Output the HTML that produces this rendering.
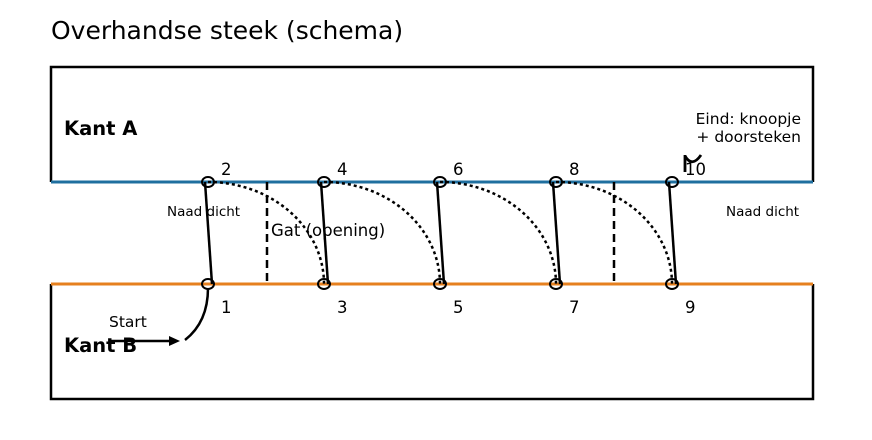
<!DOCTYPE html>
<html><head><style>body{margin:0;background:#fff}</style></head><body>
<svg width="872" height="435" xmlns="http://www.w3.org/2000/svg" font-family="DejaVu Sans, Liberation Sans, sans-serif">
<text x="51" y="39" font-size="25">Overhandse steek (schema)</text>
<g stroke="#000" stroke-width="2.5" fill="none">
<polyline points="51,182 51,67 813,67 813,182"/>
<polyline points="51,284 51,399 813,399 813,284"/>
</g>
<line x1="51" y1="182" x2="813" y2="182" stroke="#1f6f9f" stroke-width="3"/>
<line x1="51" y1="284" x2="813" y2="284" stroke="#e6801f" stroke-width="3"/>
<g stroke="#000" stroke-width="2.5" fill="none" stroke-dasharray="8,5">
<line x1="267" y1="182" x2="267" y2="284"/><line x1="614" y1="182" x2="614" y2="284"/>
</g>
<g stroke="#000" stroke-width="2.5" fill="none" stroke-dasharray="3,3">
<path d="M208,182 A116,102 0 0 1 324,284"/>
<path d="M324,182 A116,102 0 0 1 440,284"/>
<path d="M440,182 A116,102 0 0 1 556,284"/>
<path d="M556,182 A116,102 0 0 1 672,284"/>
</g>
<g stroke="#000" stroke-width="2.5" fill="none">
<line x1="205" y1="182" x2="212" y2="284"/>
<line x1="321" y1="182" x2="328" y2="284"/>
<line x1="437" y1="182" x2="444" y2="284"/>
<line x1="553" y1="182" x2="560" y2="284"/>
<line x1="669" y1="182" x2="676" y2="284"/>
<g stroke-width="2">
<ellipse cx="208" cy="182" rx="6" ry="5"/><ellipse cx="324" cy="182" rx="6" ry="5"/><ellipse cx="440" cy="182" rx="6" ry="5"/><ellipse cx="556" cy="182" rx="6" ry="5"/><ellipse cx="672" cy="182" rx="6" ry="5"/>
<ellipse cx="208" cy="284" rx="6" ry="5"/><ellipse cx="324" cy="284" rx="6" ry="5"/><ellipse cx="440" cy="284" rx="6" ry="5"/><ellipse cx="556" cy="284" rx="6" ry="5"/><ellipse cx="672" cy="284" rx="6" ry="5"/>
</g>
<path d="M208,288 Q208,322 185,340"/>
<line x1="110" y1="341" x2="172" y2="341"/>
<path d="M685,172 L685,155 M685,156 Q692,168 701,155" stroke-width="2.8"/>
</g>
<polygon points="180,341 169,336 169,346" fill="#000"/>
<g font-size="16.5">
<text x="221" y="175">2</text><text x="337" y="175">4</text><text x="453" y="175">6</text><text x="569" y="175">8</text><text x="685" y="175">10</text>
<text x="221" y="313">1</text><text x="337" y="313">3</text><text x="453" y="313">5</text><text x="569" y="313">7</text><text x="685" y="313">9</text>
<text x="271" y="236">Gat (opening)</text>
</g>
<g font-size="13.5">
<text x="167" y="216">Naad dicht</text><text x="726" y="216">Naad dicht</text>
</g>
<g font-size="15.5" text-anchor="end"><text x="801" y="124">Eind: knoopje</text><text x="801" y="142">+ doorsteken</text></g>
<text x="109" y="327" font-size="15.5">Start</text>
<text x="64" y="135" font-size="19.5" font-weight="bold">Kant A</text>
<text x="64" y="352" font-size="19.5" font-weight="bold">Kant B</text>
</svg>
</body></html>
